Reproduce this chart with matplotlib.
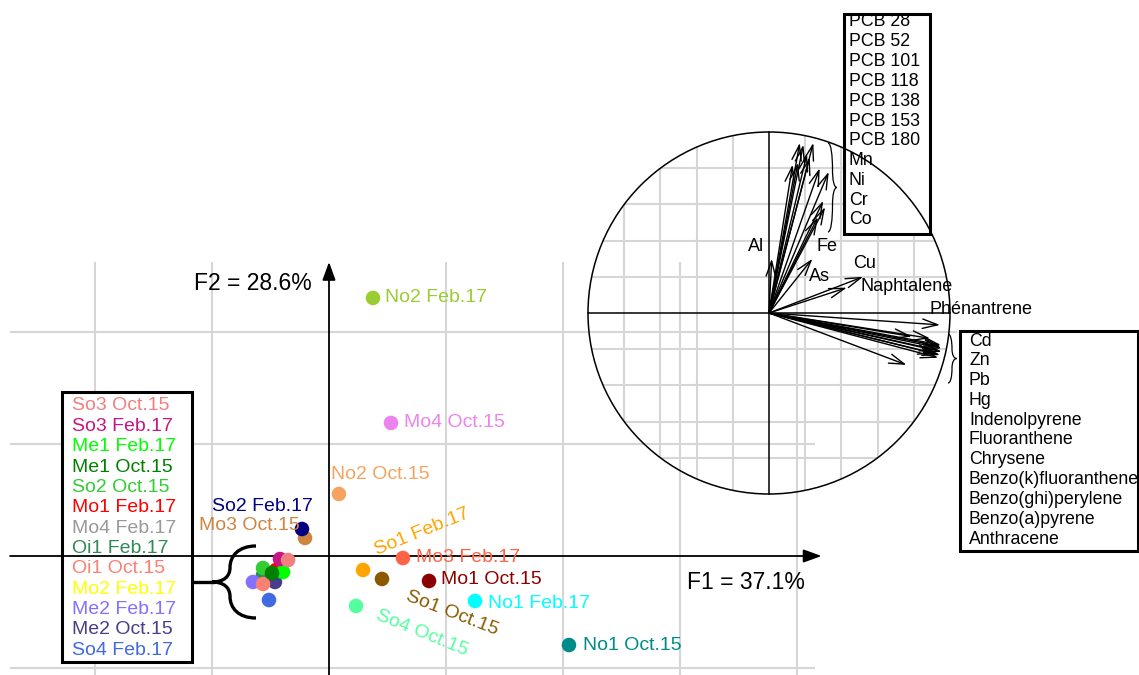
import numpy as np
import matplotlib
matplotlib.use("Agg")
import matplotlib.pyplot as plt
from matplotlib.patches import Rectangle, Circle, PathPatch
from matplotlib.path import Path

plt.rcParams['font.family'] = ['Liberation Sans', 'DejaVu Sans']

# ---------------- data: sample scores on F1 / F2 ----------------
sample_names = ["Mo1 Feb.17", "Mo4 Feb.17", "Mo2 Feb.17", "Oi1 Feb.17", "Me2 Feb.17",
                "Me2 Oct.15", "Oi1 Oct.15", "So2 Oct.15", "Me1 Feb.17", "Me1 Oct.15",
                "So3 Feb.17", "So3 Oct.15", "So4 Feb.17", "Mo3 Oct.15", "So2 Feb.17",
                "No2 Feb.17", "Mo4 Oct.15", "No2 Oct.15", "So1 Feb.17", "Mo3 Feb.17",
                "So1 Oct.15", "Mo1 Oct.15", "No1 Feb.17", "So4 Oct.15", "No1 Oct.15"]
f1_scores = [-0.453, -0.504, -0.530, -0.564, -0.650,
             -0.462, -0.564, -0.564, -0.393, -0.487,
             -0.419, -0.350, -0.513, -0.205, -0.231,
             0.376, 0.530, 0.085, 0.291, 0.632,
             0.453, 0.855, 1.248, 0.231, 2.051]
f2_scores = [-0.125, -0.179, -0.196, -0.170, -0.232,
             -0.232, -0.250, -0.107, -0.143, -0.152,
             -0.027, -0.036, -0.393, 0.161, 0.241,
             2.304, 1.188, 0.554, -0.125, -0.018,
             -0.205, -0.223, -0.402, -0.446, -0.795]
sample_colors = ["#FF0000", "#999999", "#FFFF00", "#2E8B57", "#8470FF",
                 "#483D8B", "#FA8072", "#32CD32", "#00FF00", "#008000",
                 "#C71585", "#F08080", "#4169E1", "#CD853F", "#000080",
                 "#9ACD32", "#EE82EE", "#F4A460", "#FFA500", "#FF6347",
                 "#8B5A00", "#8B0000", "#00FFFF", "#54FF9F", "#008B8B"]

# samples listed in the legend box (clustered group)
legend_samples = ["So3 Oct.15", "So3 Feb.17", "Me1 Feb.17", "Me1 Oct.15", "So2 Oct.15",
                  "Mo1 Feb.17", "Mo4 Feb.17", "Oi1 Feb.17", "Oi1 Oct.15", "Mo2 Feb.17",
                  "Me2 Feb.17", "Me2 Oct.15", "So4 Feb.17"]

# ---------------- data: variable correlations (circle) ----------------
upper_vars = ["PCB 28", "PCB 52", "PCB 101", "PCB 118", "PCB 138", "PCB 153", "PCB 180",
              "Mn", "Ni", "Cr", "Co"]
upper_f1 = [0.17, 0.19, 0.245, 0.21, 0.225, 0.13, 0.16, 0.28, 0.33, 0.30, 0.31]
upper_f2 = [0.94, 0.93, 0.94, 0.88, 0.86, 0.82, 0.83, 0.80, 0.78, 0.62, 0.585]

lower_vars = ["Cd", "Zn", "Pb", "Hg", "Indenolpyrene", "Fluoranthene", "Chrysene",
              "Benzo(k)fluoranthene", "Benzo(ghi)perylene", "Benzo(a)pyrene", "Anthracene"]
lower_f1 = [0.95, 0.954, 0.79, 0.76, 0.945, 0.935, 0.89, 0.954, 0.93, 0.92, 0.95]
lower_f2 = [-0.177, -0.195, -0.13, -0.287, -0.232, -0.247, -0.14, -0.214, -0.205, -0.225, -0.185]

single_vars = ["Al", "Fe", "As", "Cu", "Naphtalene", "Phénantrene"]
single_f1 = [0.015, 0.27, 0.24, 0.52, 0.43, 0.945]
single_f2 = [0.30, 0.53, 0.30, 0.20, 0.14, -0.066]

axis_labels = ["F1 = 37.1%", "F2 = 28.6%"]

# ---------------- layout ----------------
W, H = 1139, 675
fig = plt.figure(figsize=(W / 100, H / 100), dpi=100)

# pixel reference axes (for annotation boxes / braces)
axp = fig.add_axes([0, 0, 1, 1], zorder=0)
axp.set_xlim(0, W); axp.set_ylim(H, 0); axp.axis('off'); axp.patch.set_visible(False)
P = axp.transData

# score plot axes
X0, Y0, UX, UY = 329, 556, 117, 112
ax = fig.add_axes([0, 0, 1, 1], zorder=1)
ax.set_xlim(-X0 / UX, (W - X0) / UX); ax.set_ylim(-(H - Y0) / UY, Y0 / UY)
ax.axis('off'); ax.patch.set_visible(False)

# correlation circle axes
CX, CY, R = 769, 313, 181
axc = fig.add_axes([0, 0, 1, 1], zorder=2)
axc.set_xlim(-CX / R, (W - CX) / R); axc.set_ylim(-(H - CY) / R, CY / R)
axc.axis('off'); axc.patch.set_visible(False)

GRID = '#D6D6D6'
FS = 14

# ---- score grid ----
xl, xr = -2.726, 4.154
ytop = 2.625
ybot = ax.get_ylim()[0]
for gx in [-2, -1, 1, 2, 3, 4]:
    ax.plot([gx, gx], [ytop, ybot], color=GRID, lw=1.5, zorder=0, solid_capstyle='butt')
for gy, right in [(2, 5.37), (1, xr), (-1, xr)]:
    ax.plot([xl, right], [gy, gy], color=GRID, lw=1.5, zorder=0, solid_capstyle='butt')

# axes with arrows
arrow_kw = dict(arrowstyle='-|>,head_length=0.55,head_width=0.2', mutation_scale=20,
                lw=1.3, color='black', shrinkA=0, shrinkB=0)
ax.annotate('', xy=(4.21, 0), xytext=(xl, 0), arrowprops=arrow_kw, zorder=3)
ax.annotate('', xy=(0, ytop), xytext=(0, ybot), arrowprops=arrow_kw, zorder=3)
ax.text(4.07, -0.24, axis_labels[0], fontsize=16.5, ha='right', va='center', zorder=5)
ax.text(-0.15, 2.435, axis_labels[1], fontsize=16.5, ha='right', va='center', zorder=5)

# legend box (white) in score axes, below axis lines
ax.add_patch(Rectangle((62, 392), 130, 270, transform=P, facecolor='white',
                       edgecolor='black', lw=2.2, zorder=1))
color_of = dict(zip(sample_names, sample_colors))
for i, name in enumerate(legend_samples):
    ax.text(72, 406 + i * 20.35, name, transform=P, color=color_of[name], fontsize=FS,
            ha='left', va='center', zorder=5)

# points
ax.scatter(f1_scores, f2_scores, s=110, c=sample_colors, linewidths=0, zorder=4)

# direct labels: name -> (dx px, dy px (down positive), ha, rotation)
label_pos = {
    "No2 Feb.17": (12, 0, 'left', 0),
    "Mo4 Oct.15": (13, 0, 'left', 0),
    "No2 Oct.15": (-8, -19, 'left', 0),
    "Mo3 Feb.17": (13, -1, 'left', 0),
    "Mo1 Oct.15": (12, -1, 'left', 0),
    "No1 Feb.17": (13, 2, 'left', 0),
    "No1 Oct.15": (14, 0, 'left', 0),
    "So2 Feb.17": (11, -23, 'right', 0),
    "Mo3 Oct.15": (-5, -12, 'right', 0),
    "So1 Feb.17": (59, -38, 'center', 22),
    "So1 Oct.15": (70, 34, 'center', -21),
    "So4 Oct.15": (66, 27, 'center', -22),
}
for name, x, y, col in zip(sample_names, f1_scores, f2_scores, sample_colors):
    if name in label_pos:
        dx, dy, ha, rot = label_pos[name]
        ax.annotate(name, xy=(x, y), xytext=(dx, -dy), textcoords='offset pixels',
                    color=col, fontsize=FS, ha=ha, va='center', rotation=rot,
                    rotation_mode='anchor', zorder=5)

# brace shape
def brace(x_end, x_mid, x_tip, y0, y1):
    Hh = y1 - y0
    ym = (y0 + y1) / 2
    verts = [(x_end, y0),
             (x_end + (x_mid - x_end) * 0.68, y0), (x_mid, y0 + 0.14 * Hh), (x_mid, y0 + 0.3 * Hh),
             (x_mid, ym - 0.08 * Hh), (x_mid + (x_tip - x_mid) * 0.33, ym), (x_tip, ym),
             (x_mid + (x_tip - x_mid) * 0.33, ym), (x_mid, ym + 0.08 * Hh), (x_mid, y1 - 0.3 * Hh),
             (x_mid, y1 - 0.14 * Hh), (x_end + (x_mid - x_end) * 0.68, y1), (x_end, y1)]
    codes = [Path.MOVETO] + [Path.CURVE4] * 12
    return Path(verts, codes)

ax.add_patch(PathPatch(brace(256, 230, 212, 546, 618), transform=P, fill=False,
                       lw=2.4, edgecolor='black', zorder=3))
ax.plot([193, 213], [582, 582], transform=P, color='black', lw=2.4, zorder=3)

# ---- correlation circle ----
for g in [-0.8, -0.6, -0.4, -0.2, 0.2, 0.4, 0.6, 0.8]:
    h = np.sqrt(1 - g * g)
    axc.plot([g, g], [-h, h], color=GRID, lw=1.5, zorder=0, solid_capstyle='butt')
    axc.plot([-h, h], [g, g], color=GRID, lw=1.5, zorder=0, solid_capstyle='butt')

# boxes (white) between grid and circle
axc.add_patch(Rectangle((844, 14), 86, 220, transform=P, facecolor='white',
                        edgecolor='black', lw=2.2, zorder=1))
axc.add_patch(Rectangle((960, 331), 178, 220, transform=P, facecolor='white',
                        edgecolor='black', lw=2.2, zorder=1))

axc.add_patch(Circle((0, 0), 1, fill=False, edgecolor='black', lw=1.1, zorder=2))
axc.plot([-1, 1], [0, 0], color='black', lw=1.1, zorder=2)
axc.plot([0, 0], [-1, 1], color='black', lw=1.1, zorder=2)

var_kw = dict(arrowstyle='->,head_length=0.55,head_width=0.17', mutation_scale=20,
              lw=1.0, color='black', shrinkA=0, shrinkB=0)
for vx, vy in zip(upper_f1 + lower_f1 + single_f1, upper_f2 + lower_f2 + single_f2):
    axc.annotate('', xy=(vx, vy), xytext=(0, 0), arrowprops=var_kw, zorder=3)

single_label_pos = {"Al": (-0.116, 0.37), "Fe": (0.265, 0.365), "As": (0.221, 0.204),
                    "Cu": (0.464, 0.271), "Naphtalene": (0.508, 0.149),
                    "Phénantrene": (0.885, 0.022)}
for name in single_vars:
    lx, ly = single_label_pos[name]
    axc.text(lx, ly, name, fontsize=13, ha='left', va='center', zorder=4)

for i, name in enumerate(upper_vars):
    axc.text(849, 22 + i * 19.8, name, transform=P, fontsize=12.8, ha='left',
             va='center', zorder=4)
for i, name in enumerate(lower_vars):
    axc.text(969, 341 + i * 19.8, name, transform=P, fontsize=12.8, ha='left',
             va='center', zorder=4)

# small braces near the circle
axc.add_patch(PathPatch(brace(828, 832.5, 837, 143, 232), transform=P, fill=False,
                        lw=0.9, edgecolor='black', zorder=3))
axc.add_patch(PathPatch(brace(948, 952, 957, 334, 383), transform=P, fill=False,
                        lw=0.9, edgecolor='black', zorder=3))

fig.savefig('out.png', dpi=100)
